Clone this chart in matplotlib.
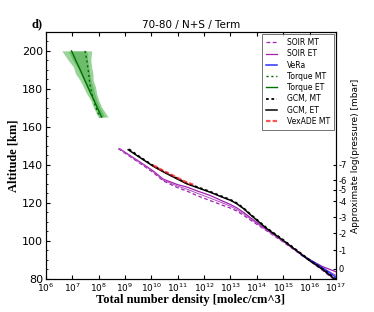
import numpy as np
import matplotlib
matplotlib.use("Agg")
import matplotlib.pyplot as plt
from matplotlib.ticker import MultipleLocator, NullLocator

# ---- data (log10 density, altitude km) ----
soir_mt_log = [8.74, 9.7, 10.07, 10.45, 11.0, 11.34, 11.8, 12.22, 12.7, 13.0, 13.23, 13.5, 13.8, 14.37, 15.0, 15.5, 16.0, 16.5, 16.9]
soir_mt_alt = [148.6, 139.6, 136.0, 131.6, 128.0, 126.3, 123.5, 121.3, 118.8, 117.3, 115.8, 113.5, 110.6, 105.4, 99.5, 94.5, 89.6, 84.5, 80.0]
soir_et_log = [8.8, 9.7, 10.07, 10.45, 11.0, 11.34, 11.8, 12.22, 12.7, 13.0, 13.23, 13.5, 13.8, 14.37, 15.0, 15.5, 16.0, 16.5, 17.0]
soir_et_alt = [148.5, 140.3, 136.8, 132.5, 129.6, 128.4, 126.0, 124.0, 121.0, 119.2, 117.5, 115.0, 111.8, 106.0, 100.0, 95.0, 90.2, 86.5, 83.8]
soir_et2_log = [8.78, 9.7, 10.07, 10.45, 11.0, 11.34, 11.8, 12.22, 12.7, 13.0, 13.23, 13.5, 13.8, 14.37, 15.0, 15.5, 16.0, 16.5, 17.0]
soir_et2_alt = [148.5, 140.0, 136.4, 132.0, 128.8, 127.3, 124.8, 122.6, 120.0, 118.3, 116.6, 114.2, 111.2, 105.7, 99.8, 94.8, 89.8, 85.8, 82.0]
vera_log = [15.7, 16.0, 16.5, 17.0]
vera_alt = [92.5, 90.2, 85.8, 81.0]
torque_mt_log = [7.48, 7.55, 7.62, 7.67, 7.75, 7.85, 7.95, 8.05]
torque_mt_alt = [200, 195, 188, 182, 177, 172, 168, 165]
torque_et_log = [6.97, 7.13, 7.3, 7.46, 7.62, 7.79, 7.95, 8.11]
torque_et_alt = [200, 195, 190, 185, 180, 175, 170, 165.2]
torque_band_alt = [200, 195, 191.6, 188, 184.6, 181, 177.6, 174, 170.5, 167.5, 165.2]
torque_band_lo = [6.6, 6.85, 7.04, 7.12, 7.29, 7.42, 7.54, 7.7, 7.79, 7.9, 7.98]
torque_band_hi = [7.73, 7.7, 7.73, 7.78, 7.79, 7.88, 7.92, 8.0, 8.11, 8.25, 8.36]
torque_band2_lo = [6.85, 7.02, 7.18, 7.3, 7.42, 7.55, 7.65, 7.78, 7.88, 7.97, 8.03]
torque_band2_hi = [7.55, 7.58, 7.62, 7.66, 7.7, 7.78, 7.85, 7.93, 8.03, 8.15, 8.22]
gcm_mt_log = [9.15, 9.5, 10.07, 10.5, 11.0, 11.34, 11.8, 12.22, 12.7, 13.0, 13.23, 13.5, 13.74, 14.37, 15.0, 15.5, 16.0, 16.5, 17.0]
gcm_mt_alt = [148.3, 144.8, 139.6, 136.3, 132.8, 130.4, 128.1, 126.0, 123.3, 121.7, 120.0, 117.3, 114.3, 106.9, 100.6, 95.3, 90.0, 85.3, 79.8]
gcm_et_log = [9.12, 9.5, 10.07, 10.5, 11.0, 11.34, 11.8, 12.22, 12.7, 13.0, 13.23, 13.5, 13.74, 14.37, 15.0, 15.5, 16.0, 16.5, 17.0]
gcm_et_alt = [148.0, 144.5, 139.3, 136.0, 132.5, 130.1, 127.8, 125.7, 123.0, 121.4, 119.7, 117.0, 114.0, 106.6, 100.3, 95.0, 89.7, 85.0, 79.5]
vexade_log = [10.07, 10.5, 11.0, 11.34, 11.6]
vexade_alt = [139.8, 136.6, 133.2, 130.8, 129.6]

xtick_exp = list(range(6, 18))
right_tick_alt = [140, 132, 127, 121, 112.5, 104, 95, 85.5]
right_tick_lab = ["-7", "-6", "-5", "-4", "-3", "-2", "-1", "0"]

def p(v):
    return 10.0 ** np.asarray(v)

fig = plt.figure(figsize=(3.74, 3.12), dpi=100)
ax = fig.add_axes([0.123, 0.1058, 0.775, 0.792])

ax.fill_betweenx(torque_band_alt, p(torque_band_lo), p(torque_band_hi), color="#33a833", alpha=0.5, lw=0)
ax.fill_betweenx(torque_band_alt, p(torque_band2_lo), p(torque_band2_hi), color="#2a9a2a", alpha=0.4, lw=0)

purple = "#a020b0"
ax.plot(p(soir_mt_log), soir_mt_alt, color=purple, ls=(0, (3, 2)), lw=0.9, label="SOIR MT")
ax.plot(p(soir_et_log), soir_et_alt, color=purple, ls="-", lw=0.9, label="SOIR ET")
ax.plot(p(soir_et2_log), soir_et2_alt, color="#b050c0", ls="-", lw=0.7)
ax.plot(p(vera_log), vera_alt, color="#3030ff", ls="-", lw=1.1, label="VeRa")
ax.plot(p(torque_mt_log), torque_mt_alt, color="#006400", ls=(0, (1.5, 2)), lw=1.0, label="Torque MT")
ax.plot(p(torque_et_log), torque_et_alt, color="#007000", ls="-", lw=1.0, label="Torque ET")
ax.plot(p(gcm_mt_log), gcm_mt_alt, color="black", ls=(0, (1.5, 1.5)), lw=1.3, label="GCM, MT")
ax.plot(p(gcm_et_log), gcm_et_alt, color="black", ls="-", lw=1.1, label="GCM, ET")
ax.plot(p(vexade_log), vexade_alt, color="#ff1a1a", ls=(0, (2, 1)), lw=1.6, alpha=0.75, label="VexADE MT")

ax.set_xscale("log")
ax.set_xlim(1e6, 1e17)
ax.set_ylim(80, 210)
ax.set_xticks([10.0 ** e for e in xtick_exp])
ax.set_xticklabels([r"$10^{%d}$" % e for e in xtick_exp])
ax.xaxis.set_minor_locator(NullLocator())
ax.yaxis.set_major_locator(MultipleLocator(20))
ax.yaxis.set_minor_locator(MultipleLocator(5))
ax.tick_params(axis="x", which="both", direction="in", top=True, labelsize=6.5, length=3, pad=2)
ax.tick_params(axis="y", which="major", direction="in", labelsize=8, length=3, pad=2)
ax.tick_params(axis="y", which="minor", direction="in", length=1.5)

ax.set_xlabel("Total number density [molec/cm^3]", family="Liberation Serif", weight="bold", fontsize=9, labelpad=0)
ax.set_ylabel("Altitude [km]", family="Liberation Serif", weight="bold", fontsize=9, labelpad=2)
ax.set_title("70-80 / N+S / Term", fontsize=7.5, pad=3)

ax2 = ax.twinx()
ax2.set_ylim(80, 210)
ax2.set_yticks(right_tick_alt)
ax2.set_yticklabels(right_tick_lab)
ax2.tick_params(axis="y", direction="in", labelsize=6, length=2.5, pad=2)
ax2.set_ylabel("Approximate log(pressure) [mbar]", fontsize=6.5, labelpad=3)

leg = ax.legend(loc="upper right", fontsize=5.5, labelspacing=0.3, handlelength=1.5,
                handletextpad=1.2, borderpad=0.5, fancybox=False, borderaxespad=0.3)
leg.get_frame().set_edgecolor("#333333")
leg.get_frame().set_linewidth(0.6)

fig.text(32 / 374, 1 - 24 / 312, "d)", family="Liberation Serif", weight="bold", fontsize=9, va="center")

fig.savefig("out.png", dpi=100)
